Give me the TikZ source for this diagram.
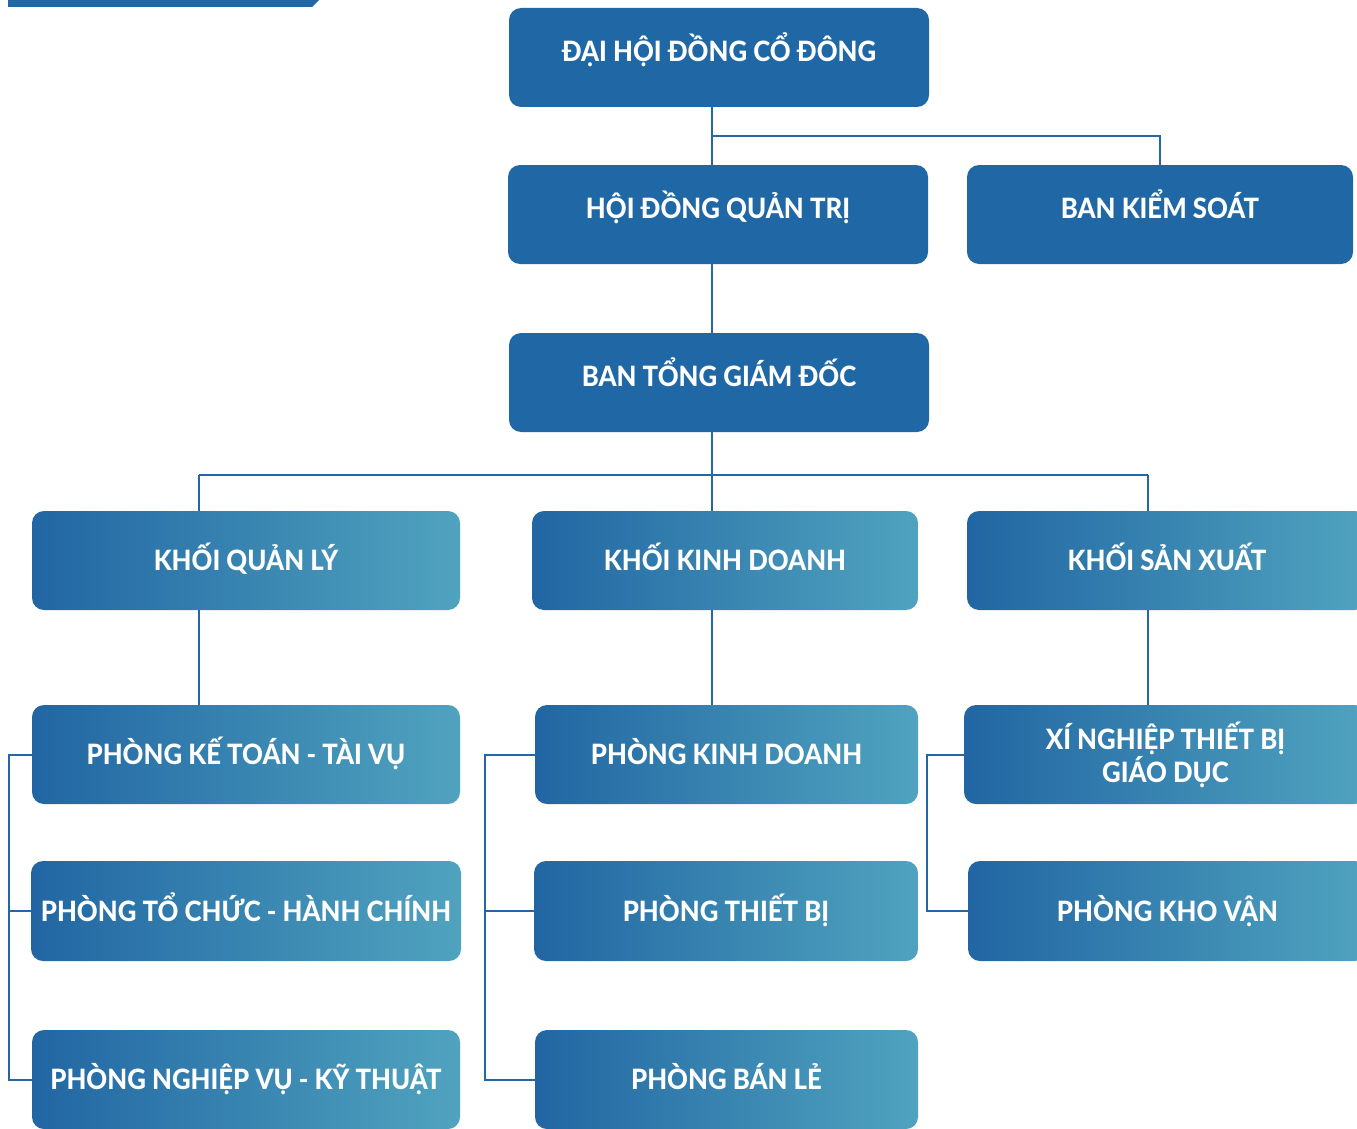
\documentclass[tikz,border=0pt]{standalone}
\usepackage{fontspec}
\setmainfont{Lato}[FakeStretch=0.9,BoldFont={Lato Heavy},BoldFeatures={FakeStretch=0.92}]
\usepackage{tikz}
\usepackage{xcolor}

\definecolor{boxblue}{HTML}{1F67A5}
\definecolor{gradleft}{HTML}{2166A3}
\definecolor{gradmid}{HTML}{1C6FB8}
\definecolor{gradright}{HTML}{50A3BF}
\definecolor{linkblue}{HTML}{2466A6}

\begin{document}
\begin{tikzpicture}[x=1pt,y=-1pt,
  solidbox/.style={fill=boxblue,rounded corners=12pt,minimum height=99pt,
    text=white,font=\fontsize{28}{33}\selectfont\bfseries,
    text height=20pt,text depth=12pt,inner sep=0pt},
  gradbox/.style={left color=gradleft,middle color=gradmid,right color=gradright,
    rounded corners=12pt,minimum height=99pt,
    text=white,font=\fontsize{28}{33}\selectfont\bfseries,
    text height=20pt,text depth=0pt,inner sep=0pt},
  link/.style={draw=linkblue,line width=2pt}]
\useasboundingbox (0,0) rectangle (1357,1129);
\fill[boxblue] (8,0) -- (319,0) -- (312,7) -- (8,7) -- cycle;

\node[solidbox,minimum width=420pt] (dhdcd) at (719,57.5) {ĐẠI HỘI ĐỒNG CỔ ĐÔNG};
\node[solidbox,minimum width=420pt] (hdqt) at (718,214.5) {HỘI ĐỒNG QUẢN TRỊ};
\node[solidbox,minimum width=386pt] (bks) at (1160,214.5) {BAN KIỂM SOÁT};
\node[solidbox,minimum width=420pt] (btgd) at (719,382.5) {BAN TỔNG GIÁM ĐỐC};

\node[gradbox,minimum width=428pt] (kql) at (246,560.5) {KHỐI QUẢN LÝ};
\node[gradbox,minimum width=386pt] (kkd) at (725,560.5) {KHỐI KINH DOANH};
\node[gradbox,minimum width=400pt] (ksx) at (1167,560.5) {KHỐI SẢN XUẤT};

\node[gradbox,minimum width=428pt] (pktv) at (246,754.5) {PHÒNG KẾ TOÁN - TÀI VỤ};
\node[gradbox,minimum width=430pt,minimum height=100pt] (ptchc) at (246,911) {PHÒNG TỔ CHỨC - HÀNH CHÍNH};
\node[gradbox,minimum width=428pt] (pnvkt) at (246,1079.5) {PHÒNG NGHIỆP VỤ - KỸ THUẬT};

\node[gradbox,minimum width=383pt] (pkd) at (726.5,754.5) {PHÒNG KINH DOANH};
\node[gradbox,minimum width=384pt,minimum height=100pt] (ptb) at (726,911) {PHÒNG THIẾT BỊ};
\node[gradbox,minimum width=383pt] (pbl) at (726.5,1079.5) {PHÒNG BÁN LẺ};

\node[gradbox,minimum width=403pt,text height=,text depth=,align=center] (xntb) at (1165.5,754.5) {XÍ NGHIỆP THIẾT BỊ\\GIÁO DỤC};
\node[gradbox,minimum width=399pt,minimum height=100pt] (pkv) at (1167.5,911) {PHÒNG KHO VẬN};

\coordinate (spine) at (712,136);
\coordinate (split) at (712,475);
\coordinate (qlx) at (199,475);
\coordinate (sxx) at (1148,475);

\draw[link] (dhdcd.south -| spine) -- (hdqt.north -| spine);
\draw[link] (spine) -| (bks.north);
\draw[link] (hdqt.south -| spine) -- (btgd.north -| spine);
\draw[link] (btgd.south -| split) -- (split);
\draw[link] (qlx) -- (sxx);
\draw[link] (qlx) -- (kql.north -| qlx);
\draw[link] (split) -- (kkd.north -| split);
\draw[link] (sxx) -- (ksx.north -| sxx);
\draw[link] (kql.south -| qlx) -- (pktv.north -| qlx);
\draw[link] (kkd.south -| split) -- (pkd.north -| split);
\draw[link] (ksx.south -| sxx) -- (xntb.north -| sxx);

\draw[link] (pktv.west) -- ++(-23,0) |- (pnvkt.west);
\draw[link] (ptchc.west) -- ++(-22,0);
\draw[link] (pkd.west) -- ++(-50,0) |- (pbl.west);
\draw[link] (ptb.west) -- ++(-49,0);
\draw[link] (xntb.west) -- ++(-37,0) |- (pkv.west);
\end{tikzpicture}
\end{document}
